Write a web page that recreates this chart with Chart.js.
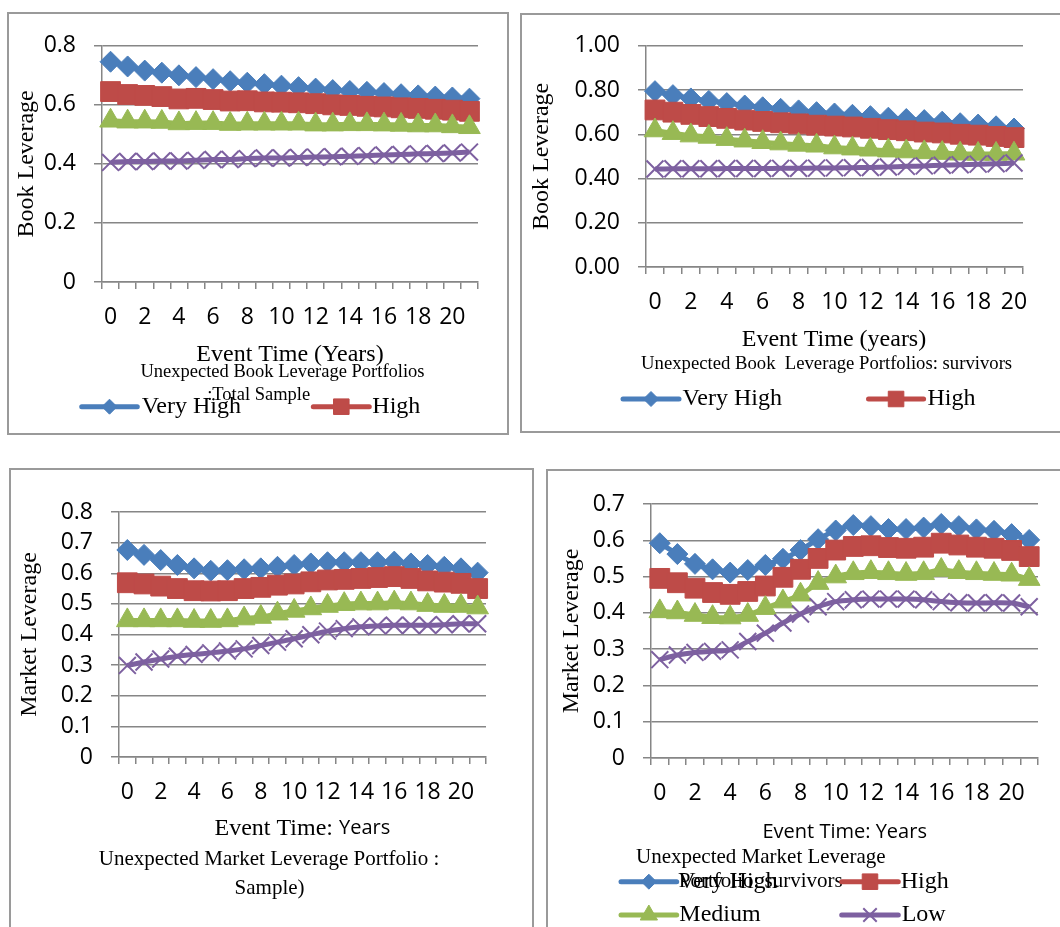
<!DOCTYPE html>
<html><head><meta charset="utf-8">
<script src="https://cdn.jsdelivr.net/npm/chart.js@4.4.1/dist/chart.umd.min.js"></script>
<style>
html,body{margin:0;padding:0;background:#fff;width:1060px;height:927px;overflow:hidden;position:relative}
.frame{position:absolute;box-sizing:border-box;border:2px solid #9a9a9a}
canvas{position:absolute}
</style></head><body>
<div class="frame" style="left:7px;top:12px;width:502px;height:423px"></div>
<div class="frame" style="left:520px;top:13px;width:600px;height:420px"></div>
<div class="frame" style="left:9px;top:468px;width:525px;height:500px"></div>
<div class="frame" style="left:546px;top:469px;width:600px;height:500px"></div>
<canvas id="c1" width="498" height="419" style="left:9px;top:14px"></canvas>
<canvas id="c2" width="543" height="418" style="left:522px;top:14px"></canvas>
<canvas id="c3" width="521" height="468" style="left:11px;top:470px"></canvas>
<canvas id="c4" width="518" height="468" style="left:547px;top:470px"></canvas>
<script>
// ---------- DATA ----------
const seriesNames = ['Very High', 'High', 'Medium', 'Low'];

const years22 = [0,1,2,3,4,5,6,7,8,9,10,11,12,13,14,15,16,17,18,19,20,21];
const years21 = [0,1,2,3,4,5,6,7,8,9,10,11,12,13,14,15,16,17,18,19,20];

// Panel 1: Unexpected Book Leverage Portfolios : Total Sample
const bookTotalVeryHigh = [0.746,0.730,0.716,0.709,0.700,0.694,0.687,0.680,0.675,0.670,0.665,0.660,0.655,0.650,0.647,0.644,0.640,0.636,0.632,0.628,0.625,0.621];
const bookTotalHigh     = [0.645,0.635,0.632,0.628,0.620,0.622,0.618,0.613,0.614,0.610,0.609,0.607,0.604,0.600,0.598,0.595,0.593,0.590,0.588,0.585,0.582,0.578];
const bookTotalMedium   = [0.546,0.543,0.543,0.542,0.537,0.538,0.538,0.535,0.536,0.536,0.536,0.536,0.533,0.533,0.534,0.534,0.533,0.532,0.530,0.530,0.527,0.524];
const bookTotalLow      = [0.405,0.408,0.408,0.410,0.410,0.412,0.415,0.415,0.418,0.420,0.420,0.422,0.423,0.424,0.426,0.428,0.430,0.432,0.434,0.435,0.437,0.440];

// Panel 2: Unexpected Book Leverage Portfolios: survivors
const bookSurvVeryHigh = [0.795,0.777,0.762,0.751,0.741,0.730,0.722,0.715,0.708,0.700,0.694,0.688,0.682,0.675,0.669,0.664,0.657,0.650,0.644,0.636,0.626];
const bookSurvHigh     = [0.710,0.700,0.690,0.680,0.672,0.664,0.658,0.652,0.647,0.641,0.637,0.633,0.627,0.621,0.616,0.610,0.606,0.600,0.596,0.590,0.585];
const bookSurvMedium   = [0.617,0.605,0.594,0.588,0.578,0.571,0.564,0.558,0.552,0.548,0.540,0.535,0.530,0.526,0.522,0.518,0.515,0.512,0.511,0.511,0.512];
const bookSurvLow      = [0.443,0.444,0.444,0.444,0.445,0.445,0.445,0.446,0.446,0.447,0.448,0.449,0.450,0.452,0.455,0.457,0.460,0.462,0.465,0.467,0.470];

// Panel 3: Unexpected Market Leverage Portfolio : Sample
const mktTotalVeryHigh = [0.676,0.660,0.643,0.627,0.616,0.608,0.610,0.613,0.616,0.621,0.627,0.632,0.636,0.636,0.636,0.636,0.638,0.632,0.627,0.621,0.616,0.602];
const mktTotalHigh     = [0.569,0.565,0.558,0.550,0.543,0.542,0.543,0.550,0.554,0.561,0.565,0.572,0.578,0.580,0.583,0.586,0.589,0.583,0.575,0.571,0.567,0.550];
const mktTotalMedium   = [0.446,0.446,0.446,0.446,0.444,0.444,0.446,0.452,0.457,0.468,0.477,0.485,0.493,0.499,0.501,0.501,0.504,0.501,0.496,0.493,0.493,0.488];
const mktTotalLow      = [0.299,0.310,0.320,0.329,0.335,0.340,0.346,0.353,0.364,0.375,0.386,0.399,0.411,0.419,0.425,0.428,0.430,0.430,0.430,0.432,0.435,0.435];

// Panel 4: Unexpected Market Leverage Portfolio: survivors
const mktSurvVeryHigh = [0.592,0.562,0.535,0.520,0.511,0.518,0.532,0.549,0.573,0.603,0.627,0.642,0.639,0.631,0.631,0.635,0.645,0.639,0.630,0.626,0.617,0.601];
const mktSurvHigh     = [0.495,0.483,0.468,0.456,0.451,0.459,0.474,0.498,0.520,0.550,0.573,0.583,0.585,0.580,0.578,0.581,0.592,0.587,0.581,0.578,0.572,0.555];
const mktSurvMedium   = [0.404,0.401,0.394,0.388,0.387,0.394,0.413,0.431,0.450,0.482,0.500,0.509,0.512,0.509,0.507,0.509,0.518,0.512,0.509,0.507,0.505,0.493];
const mktSurvLow      = [0.271,0.284,0.291,0.294,0.298,0.321,0.344,0.372,0.397,0.417,0.431,0.436,0.438,0.438,0.438,0.436,0.431,0.428,0.427,0.428,0.427,0.417];

// ---------- STYLE ----------
const COLORS = ['#4A7EBB', '#BE4B48', '#98B954', '#7D60A0'];
const STYLES = ['rectRot', 'rect', 'triangle', 'crossRot'];
const RADII = [10.5, 14, 12.5, 12];
const LEGEND_RADII = [7.5, 11, 10, 9.5];
const GRID = '#868686';
const SERIF = '"Liberation Serif", "Times New Roman", serif';
const SANS = '"Open Sans", sans-serif';

const NOTES = {
  c1: {
    texts: [
      {x: 281, y: 341, runs: [['Event Time (Years)', '24px ' + SERIF]]},
      {x: 273.5, y: 357.7, runs: [['Unexpected Book Leverage Portfolios', '18.5px ' + SERIF]]},
      {x: 249.7, y: 381, runs: [[':Total Sample', '18.5px ' + SERIF]]}
    ],
    legend: [
      {ds: 0, x1: 72.7, x2: 128.3, tx: 132.7, y: 392.7},
      {ds: 1, x1: 304.3, x2: 360.3, tx: 363.3, y: 392.7}
    ]
  },
  c2: {
    texts: [
      {x: 312, y: 326, runs: [['Event Time (years)', '24px ' + SERIF]]},
      {x: 304.6, y: 350, runs: [['Unexpected Book  Leverage Portfolios: survivors', '18.7px ' + SERIF]]}
    ],
    legend: [
      {ds: 0, x1: 101, x2: 157, tx: 160.6, y: 385},
      {ds: 1, x1: 346.5, x2: 401.6, tx: 405.5, y: 385}
    ]
  },
  c3: {
    texts: [
      {x: 291.4, y: 358.3, runs: [['Event Time: ', '24px ' + SERIF], ['Years', '20px ' + SANS]]},
      {x: 258, y: 389, runs: [['Unexpected Market Leverage Portfolio :', '21px ' + SERIF]]},
      {x: 258.6, y: 418.3, runs: [['Sample)', '21px ' + SERIF]]}
    ],
    legend: []
  },
  c4: {
    texts: [
      {x: 297.7, y: 362.3, runs: [['Event Time: Years', '20px ' + SANS]]},
      {x: 213.8, y: 387.3, runs: [['Unexpected Market Leverage', '21px ' + SERIF]]},
      {x: 213.8, y: 411.7, runs: [['Portfolio: survivors', '21px ' + SERIF]]}
    ],
    legend: [
      {ds: 0, x1: 74, x2: 129.7, tx: 131.3, y: 411.7},
      {ds: 1, x1: 294.7, x2: 351.3, tx: 353.7, y: 411.7},
      {ds: 2, x1: 74, x2: 129.7, tx: 132.3, y: 445},
      {ds: 3, x1: 294.7, x2: 351.3, tx: 354.7, y: 445}
    ]
  }
};

function drawMarker(ctx, style, r, x, y, bw) {
  if (Chart.helpers && Chart.helpers.drawPoint) {
    Chart.helpers.drawPoint(ctx, {pointStyle: style, radius: r, borderWidth: bw, rotation: 0}, x, y);
    return;
  }
  ctx.beginPath();
  if (style === 'rectRot') { ctx.moveTo(x - r, y); ctx.lineTo(x, y - r); ctx.lineTo(x + r, y); ctx.lineTo(x, y + r); ctx.closePath(); ctx.fill(); }
  else if (style === 'rect') { const s = r * Math.SQRT1_2; ctx.rect(x - s, y - s, 2 * s, 2 * s); ctx.fill(); }
  else if (style === 'triangle') { ctx.moveTo(x, y - r); ctx.lineTo(x + r * 0.866, y + r / 2); ctx.lineTo(x - r * 0.866, y + r / 2); ctx.closePath(); ctx.fill(); }
  else { const s = r * Math.SQRT1_2; ctx.moveTo(x - s, y - s); ctx.lineTo(x + s, y + s); ctx.moveTo(x + s, y - s); ctx.lineTo(x - s, y + s); ctx.stroke(); }
}

const notesPlugin = {
  id: 'notes',
  afterDraw(chart) {
    const cfg = NOTES[chart.canvas.id];
    if (!cfg) return;
    const ctx = chart.ctx;
    ctx.save();
    ctx.textBaseline = 'middle';
    ctx.textAlign = 'left';
    cfg.texts.forEach(t => {
      const widths = t.runs.map(r => { ctx.font = r[1]; return ctx.measureText(r[0]).width; });
      let x = t.x - widths.reduce((a, b) => a + b, 0) / 2;
      ctx.fillStyle = '#000';
      t.runs.forEach((r, i) => { ctx.font = r[1]; ctx.fillText(r[0], x, t.y); x += widths[i]; });
    });
    cfg.legend.forEach(it => {
      const ds = chart.data.datasets[it.ds];
      ctx.strokeStyle = ds.borderColor; ctx.lineWidth = ds.borderWidth; ctx.lineCap = 'round';
      ctx.beginPath(); ctx.moveTo(it.x1, it.y); ctx.lineTo(it.x2, it.y); ctx.stroke();
      ctx.lineCap = 'butt';
      ctx.fillStyle = ds.pointBackgroundColor; ctx.strokeStyle = ds.pointBorderColor; ctx.lineWidth = ds.pointBorderWidth;
      drawMarker(ctx, ds.pointStyle, LEGEND_RADII[it.ds], (it.x1 + it.x2) / 2, it.y, ds.pointBorderWidth);
      ctx.fillStyle = '#000'; ctx.font = '24px ' + SERIF; ctx.textBaseline = 'middle'; ctx.textAlign = 'left';
      ctx.fillText(ds.label, it.tx, it.y);
    });
    ctx.restore();
  }
};

function makeChart(id, labels, series, y, geom) {
  const datasets = series.map((s, i) => ({
    label: seriesNames[i], data: s,
    borderColor: COLORS[i], backgroundColor: COLORS[i],
    pointBackgroundColor: COLORS[i], pointBorderColor: COLORS[i],
    pointStyle: STYLES[i], pointRadius: RADII[i], pointHoverRadius: RADII[i],
    pointBorderWidth: i === 3 ? 2 : 1,
    borderWidth: 5, tension: 0.3, fill: false, order: 4 - i, clip: false
  }));
  return new Chart(document.getElementById(id), {
    type: 'line',
    data: {labels: labels, datasets: datasets},
    options: {
      responsive: false, animation: false, events: [],
      layout: {padding: geom.pad},
      plugins: {legend: {display: false}, tooltip: {enabled: false}, title: {display: false}},
      scales: {
        x: {
          type: 'category', offset: true,
          grid: {display: true, drawOnChartArea: false, drawTicks: true, tickLength: 7, offset: true, color: GRID, lineWidth: 1.5},
          border: {display: true, color: GRID, width: 1.5},
          ticks: {autoSkip: false, maxRotation: 0, minRotation: 0, padding: 14.5, font: {size: 23, family: SANS}, color: '#000',
            callback: function (v, i) { return i % 2 === 0 ? String(this.getLabelForValue(v)) : ''; }},
          afterFit: function (s) { s.height = 60; }
        },
        y: {
          min: 0, max: y.max,
          ticks: {stepSize: y.step, padding: 18, font: {size: 23, family: SANS}, color: '#000', callback: y.fmt},
          grid: {color: GRID, lineWidth: 1.5, tickLength: 8, drawTicks: true},
          border: {display: true, color: GRID, width: 1.5},
          title: {display: true, text: y.title, font: {family: SERIF, size: 24}, color: '#000', padding: {top: geom.tp, bottom: 0}},
          afterFit: function (s) { s.width = geom.yw; }
        }
      }
    },
    plugins: [notesPlugin]
  });
}

const fmt1 = v => String(+v.toFixed(1));
const fmt2 = v => v.toFixed(2);

function build() {
  Chart.defaults.font.family = SANS;
  makeChart('c1', years22, [bookTotalVeryHigh, bookTotalHigh, bookTotalMedium, bookTotalLow],
    {max: 0.8, step: 0.2, fmt: fmt1, title: 'Book Leverage'},
    {pad: {left: 0, top: 30, right: 29, bottom: 91}, yw: 93, tp: 3.3});
  makeChart('c2', years21, [bookSurvVeryHigh, bookSurvHigh, bookSurvMedium, bookSurvLow],
    {max: 1.0, step: 0.2, fmt: fmt2, title: 'Book Leverage'},
    {pad: {left: 0, top: 20, right: 42, bottom: 105}, yw: 124, tp: 5.6});
  makeChart('c3', years22, [mktTotalVeryHigh, mktTotalHigh, mktTotalMedium, mktTotalLow],
    {max: 0.8, step: 0.1, fmt: fmt1, title: 'Market Leverage'},
    {pad: {left: 0, top: 42, right: 46, bottom: 121}, yw: 108, tp: 3.9});
  makeChart('c4', years22, [mktSurvVeryHigh, mktSurvHigh, mktSurvMedium, mktSurvLow],
    {max: 0.7, step: 0.1, fmt: fmt1, title: 'Market Leverage'},
    {pad: {left: 0, top: 34, right: 27, bottom: 120}, yw: 104, tp: 10.6});
}

if (document.fonts && document.fonts.load) {
  Promise.all([
    document.fonts.load('23px "Open Sans"'),
    document.fonts.load('24px "Liberation Serif"')
  ]).then(build, build);
} else { build(); }
</script>
</body></html>
